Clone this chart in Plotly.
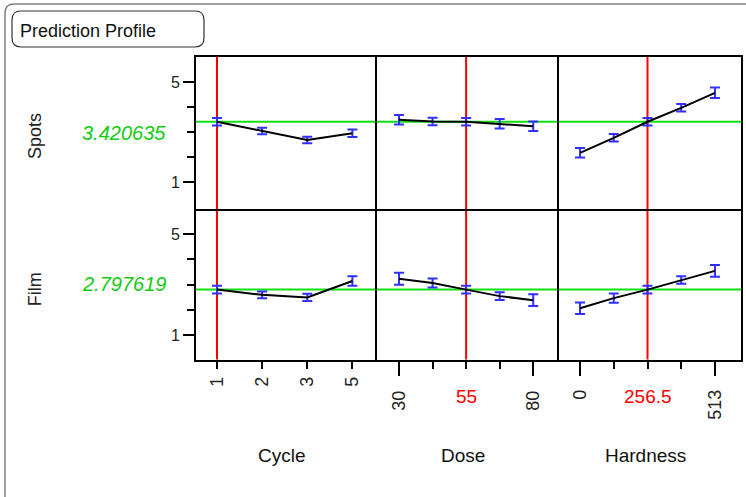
import plotly.graph_objects as go

# ---- data -------------------------------------------------------------
cycle_levels = ["1", "2", "3", "5"]
dose_levels = [30, 42.5, 55, 67.5, 80]
hardness_levels = [0, 128.25, 256.5, 384.75, 513]

spots_current = 3.420635
film_current = 2.797619
cycle_current = "1"
dose_current = 55
hardness_current = 256.5

spots_cycle = [3.420635, 3.05, 2.69, 2.96]
spots_cycle_err = [0.15, 0.13, 0.13, 0.15]
spots_dose = [3.50, 3.43, 3.420635, 3.34, 3.24]
spots_dose_err = [0.19, 0.15, 0.15, 0.19, 0.19]
spots_hardness = [2.18, 2.78, 3.420635, 3.98, 4.58]
spots_hardness_err = [0.19, 0.15, 0.15, 0.15, 0.21]

film_cycle = [2.797619, 2.59, 2.49, 3.14]
film_cycle_err = [0.15, 0.13, 0.14, 0.19]
film_dose = [3.23, 3.06, 2.797619, 2.54, 2.38]
film_dose_err = [0.24, 0.18, 0.15, 0.15, 0.23]
film_hardness = [2.06, 2.46, 2.797619, 3.18, 3.54]
film_hardness_err = [0.23, 0.18, 0.15, 0.15, 0.23]

responses = ["Spots", "Film"]
factors = ["Cycle", "Dose", "Hardness"]
y_ticks = [1, 5]
y_minor = [2, 3, 4]

# ---- page geometry (pixels) -------------------------------------------
W, H = 746, 497
FONT = "Liberation Sans, Arial, sans-serif"
BLUE = "#3030ff"
GREEN_LINE = "#10e010"
GREEN_TEXT = "#11cc11"


def px(x):
    return x / W


def py(y):
    return 1 - y / H


col_px = [(196, 377), (377, 559), (559, 741)]
row_px = [(57, 209), (209, 359.5)]
y_ranges = [[-0.068, 6.012], [0.03, 5.99]]

# Cycle levels are plotted at evenly spaced positions, labelled by level
cycle_pos = list(range(len(cycle_levels)))

fig = go.Figure()

series = [
    [(cycle_pos, spots_cycle, spots_cycle_err),
     (dose_levels, spots_dose, spots_dose_err),
     (hardness_levels, spots_hardness, spots_hardness_err)],
    [(cycle_pos, film_cycle, film_cycle_err),
     (dose_levels, film_dose, film_dose_err),
     (hardness_levels, film_hardness, film_hardness_err)],
]
currents_x = [cycle_levels.index(cycle_current), dose_current, hardness_current]
currents_y = [spots_current, film_current]

layout = dict(
    width=W, height=H, margin=dict(l=0, r=0, t=0, b=0),
    paper_bgcolor="white", plot_bgcolor="white", showlegend=False,
    font=dict(family=FONT, color="#222"),
)
shapes = []
annotations = []

x_ranges = [[-0.465, 3.545], [21.8, 89.6], [-80, 612]]

for r in range(2):
    for c in range(3):
        k = r * 3 + c + 1
        xs, ys, es = series[r][c]
        xa = "x" if k == 1 else f"x{k}"
        ya = "y" if k == 1 else f"y{k}"
        # error bars first, then the profile line over them
        fig.add_trace(go.Scatter(
            x=xs, y=ys, mode="markers", marker=dict(size=1, color=BLUE, opacity=0),
            error_y=dict(type="data", array=es, visible=True, color=BLUE,
                         thickness=2, width=5),
            xaxis=xa, yaxis=ya, hoverinfo="skip"))
        fig.add_trace(go.Scatter(
            x=xs, y=ys, mode="lines", line=dict(color="black", width=2),
            xaxis=xa, yaxis=ya, hoverinfo="skip"))

        xd = [px(col_px[c][0]), px(col_px[c][1])]
        yd = [py(row_px[r][1]), py(row_px[r][0])]
        # each panel draws its bottom/left edges; outer top/right edges are mirrored
        xaxis = dict(domain=xd, anchor=ya, range=x_ranges[c], showgrid=False,
                     zeroline=False, showline=True, mirror=(r == 0), linecolor="black",
                     linewidth=2, fixedrange=True)
        if r == 1:
            xaxis.update(ticks="outside", tickcolor="black", tickwidth=2,
                         tickangle=-90, tickfont=dict(size=18, family=FONT, color="#222"))
            if c == 0:
                xaxis.update(tickvals=cycle_pos, ticktext=cycle_levels,
                             ticklen=7, ticklabelstandoff=1)
            elif c == 1:
                xaxis.update(tickvals=[dose_levels[0], dose_levels[-1]],
                             ticktext=[f"{dose_levels[0]:g}", f"{dose_levels[-1]:g}"],
                             ticklen=14, ticklabelstandoff=8,
                             minor=dict(tickvals=dose_levels[1:-1], ticklen=7,
                                        tickwidth=2, tickcolor="black", ticks="outside"))
            else:
                xaxis.update(tickvals=[hardness_levels[0], hardness_levels[-1]],
                             ticktext=[f"{hardness_levels[0]:g}", f"{hardness_levels[-1]:g}"],
                             ticklen=14, ticklabelstandoff=7,
                             minor=dict(tickvals=hardness_levels[1:-1], ticklen=7,
                                        tickwidth=2, tickcolor="black", ticks="outside"))
        else:
            xaxis.update(showticklabels=False, ticks="")
        yaxis = dict(domain=yd, anchor=xa, range=y_ranges[r], showgrid=False,
                     zeroline=False, showline=True, mirror=(c == 2), linecolor="black",
                     linewidth=2, fixedrange=True)
        if c == 0:
            yaxis.update(tickvals=y_ticks, ticks="outside", ticklen=11, tickwidth=2,
                         tickcolor="black", ticklabelstandoff=0,
                         tickfont=dict(size=16, family=FONT, color="#222"),
                         minor=dict(tickvals=y_minor, ticklen=7, tickwidth=2,
                                    tickcolor="black", ticks="outside"))
        else:
            yaxis.update(showticklabels=False, ticks="")
        layout["xaxis" if k == 1 else f"xaxis{k}"] = xaxis
        layout["yaxis" if k == 1 else f"yaxis{k}"] = yaxis

        # current factor setting (red vertical)
        shapes.append(dict(type="line", xref=xa, yref=f"{ya} domain",
                           x0=currents_x[c], x1=currents_x[c], y0=0, y1=1,
                           line=dict(color="red", width=2), layer="below"))

    # current response value (green horizontal across the row)
    ya = "y" if r == 0 else "y4"
    shapes.insert(0, dict(type="line", xref="paper", yref=ya,
                          x0=px(col_px[0][0]), x1=px(col_px[2][1]),
                          y0=currents_y[r], y1=currents_y[r],
                          line=dict(color=GREEN_LINE, width=2), layer="below"))

    yc = py((row_px[r][0] + row_px[r][1]) / 2)
    annotations.append(dict(xref="paper", yref="paper", x=px(168), y=yc,
                            xanchor="right", yanchor="middle", showarrow=False,
                            text=f"{currents_y[r]:.6f}",
                            font=dict(size=20, color=GREEN_TEXT, family=FONT, style="italic")))
    annotations.append(dict(xref="paper", yref="paper", x=px(35),
                            y=py((row_px[r][0] + row_px[r][1]) / 2 + (3 if r == 0 else 5)),
                            xanchor="center", yanchor="middle", showarrow=False,
                            textangle=-90, text=responses[r],
                            font=dict(size=18, color="#222", family=FONT)))

# current factor values under the axes (red) and factor names
annotations.append(dict(xref="x5", yref="paper", x=dose_current, y=py(396),
                        xanchor="center", yanchor="middle", showarrow=False,
                        text=f"{dose_current:g}", font=dict(size=19, color="red", family=FONT)))
annotations.append(dict(xref="x6", yref="paper", x=hardness_current, y=py(396),
                        xanchor="center", yanchor="middle", showarrow=False,
                        text=f"{hardness_current:g}", font=dict(size=19, color="red", family=FONT)))
for c, name in enumerate(factors):
    xa = "x4" if c == 0 else f"x{4 + c}"
    annotations.append(dict(xref=f"{xa} domain", yref="paper", x=0.475, y=py(455),
                            xanchor="center", yanchor="middle", showarrow=False,
                            text=name, font=dict(size=19, color="#111", family=FONT)))


def rounded_path(x0, y0, x1, y1, rad):
    pts = [
        f"M {px(x0 + rad)},{py(y0)}",
        f"L {px(x1 - rad)},{py(y0)}",
        f"Q {px(x1)},{py(y0)} {px(x1)},{py(y0 + rad)}",
        f"L {px(x1)},{py(y1 - rad)}",
        f"Q {px(x1)},{py(y1)} {px(x1 - rad)},{py(y1)}",
        f"L {px(x0 + rad)},{py(y1)}",
        f"Q {px(x0)},{py(y1)} {px(x0)},{py(y1 - rad)}",
        f"L {px(x0)},{py(y0 + rad)}",
        f"Q {px(x0)},{py(y0)} {px(x0 + rad)},{py(y0)}",
        "Z",
    ]
    return " ".join(pts)


# outer frame (top-left corner of a larger panel)
shapes.append(dict(type="path", xref="paper", yref="paper",
                   path=(f"M {px(5)},{py(H + 5)} L {px(5)},{py(13)} "
                         f"Q {px(5)},{py(4)} {px(14)},{py(4)} L {px(W + 5)},{py(4)}"),
                   line=dict(color="#808080", width=1.5)))
# title box
shapes.append(dict(type="path", xref="paper", yref="paper",
                   path=rounded_path(12, 11, 204, 47, 9),
                   line=dict(color="#333", width=1.2)))
annotations.append(dict(xref="paper", yref="paper", x=px(18), y=py(31),
                        xanchor="left", yanchor="middle", showarrow=False,
                        text="Prediction Profile",
                        font=dict(size=18, color="#111", family=FONT)))

layout["shapes"] = shapes
layout["annotations"] = annotations
fig.update_layout(**layout)
fig.write_html("out.html")
